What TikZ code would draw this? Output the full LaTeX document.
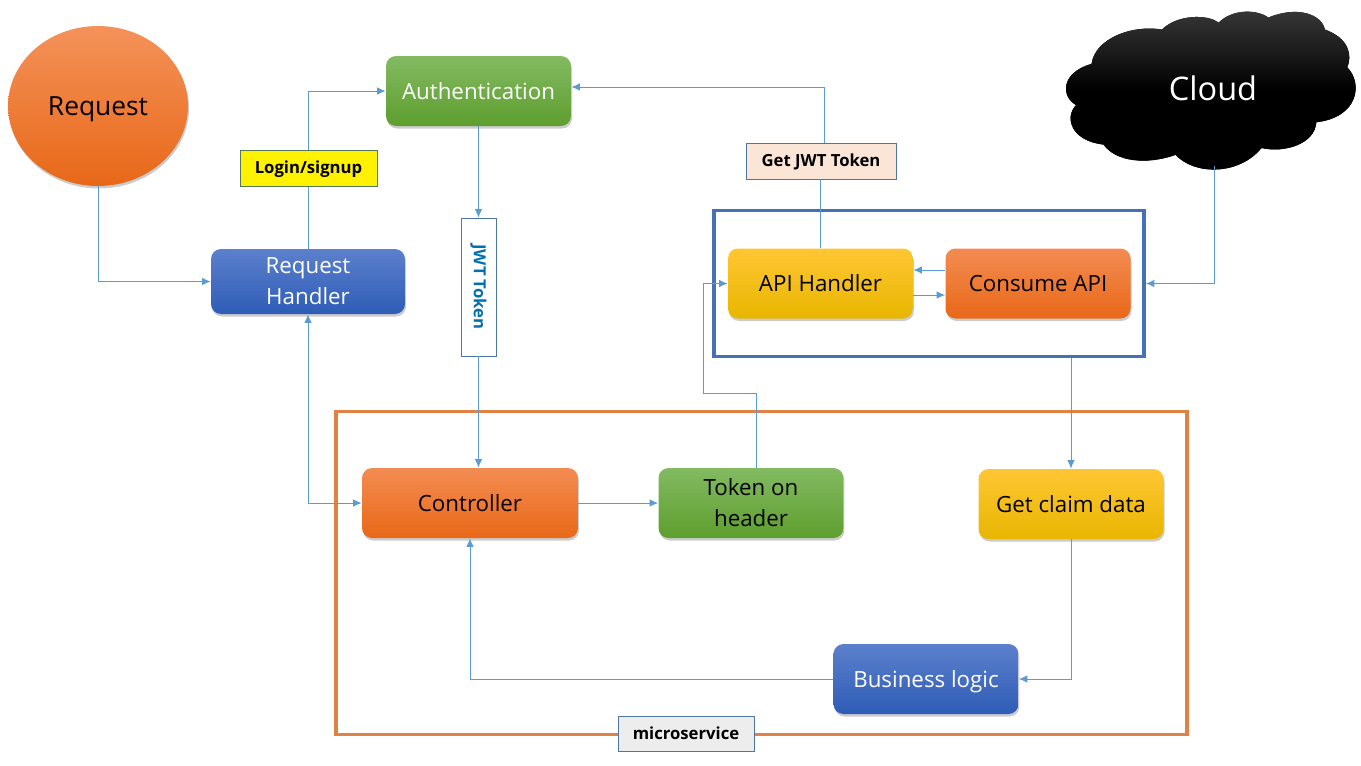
\documentclass[tikz,border=0pt]{standalone}
\usepackage{fontspec}
\setmainfont{Open Sans}
\usetikzlibrary{arrows.meta,shapes.geometric,shadows}
\definecolor{linkblue}{HTML}{5B9BD5}
\definecolor{frameblue}{HTML}{4472B4}
\definecolor{frameorange}{HTML}{DF8244}
\tikzset{
    softshadow/.style={drop shadow={shadow xshift=0.02cm, shadow yshift=-0.05cm, opacity=0.4}},
    boxbase/.style={rounded corners=0.2cm, minimum width=3.7cm, minimum height=1.4cm, inner sep=0pt, align=center, softshadow,
        font=\fontsize{12.7}{17.6}\selectfont},
    oneline/.style={text height=9.1pt, text depth=0pt},
    orangebox/.style={boxbase, top color={rgb,255:red,243;green,140;blue,82}, bottom color={rgb,255:red,232;green,104;blue,24}, text=black},
    greenbox/.style={boxbase, top color={rgb,255:red,131;green,186;blue,98}, bottom color={rgb,255:red,94;green,158;blue,46}},
    yellowbox/.style={boxbase, top color={rgb,255:red,255;green,198;blue,52}, middle color={rgb,255:red,255;green,194;blue,0}, bottom color={rgb,255:red,232;green,182;blue,0}, text=black},
    bluebox/.style={boxbase, top color={rgb,255:red,92;green,128;blue,204}, bottom color={rgb,255:red,46;green,92;blue,182}, text=white},
    tagbox/.style={draw={rgb,255:red,78;green,118;blue,160}, line width=0.4pt, inner sep=0pt, font=\fontsize{9.5}{11}\selectfont\bfseries},
    tagline/.style={text height=6.8pt, text depth=0pt},
    framebox/.style={draw, line width=2.2pt, inner sep=0pt},
    link/.style={draw=linkblue, line width=0.55pt, -{Latex[length=0.17cm,width=0.15cm]}},
    plainlink/.style={draw=linkblue, line width=0.55pt},
}
\begin{document}
\begin{tikzpicture}[x=0.02cm,y=-0.02cm]
    \useasboundingbox (0,0) rectangle (1361,765);
    \node[framebox, draw=frameorange, minimum width=17.02cm, minimum height=6.46cm] (microbox) at (761.5,573) {};
    \node[framebox, draw=frameblue, minimum width=8.6cm, minimum height=2.92cm] (apibox) at (929,283.5) {};

    \node[ellipse, minimum width=3.6cm, minimum height=3.2cm, inner sep=0pt, top color={rgb,255:red,244;green,146;blue,90}, bottom color={rgb,255:red,232;green,104;blue,24},
        softshadow, text height=10.7pt, text depth=0pt, font=\fontsize{15}{18}\selectfont] (request) at (98,106) {Request};
    \node[greenbox, oneline, text=white] (authentication) at (478.5,91) {Authentication};
    \node[bluebox, minimum width=3.88cm, minimum height=1.3cm] (reqhandler) at (308,281.5) {Request\\Handler};
    \node[yellowbox, oneline] (apihandler) at (820.5,283.5) {API Handler};
    \node[orangebox, oneline] (consume) at (1038,283.5) {Consume API};
    \node[orangebox, oneline, minimum width=4.32cm] (controller) at (470,503) {Controller};
    \node[greenbox, text=black] (tokenheader) at (751,503) {Token on\\header};
    \node[yellowbox, oneline] (claimdata) at (1071,504) {Get claim data};
    \node[bluebox, oneline] (business) at (926,679) {Business logic};
    \node[tagbox, fill=white, text={rgb,255:red,0;green,112;blue,176}, minimum width=0.7cm, minimum height=2.76cm] (jwttoken) at (478.5,287) {\rotatebox{-90}{JWT Token}};
    \node[tagbox, tagline, fill={rgb,255:red,251;green,229;blue,214}, minimum width=3cm, minimum height=0.72cm] (getjwt) at (821,161) {Get JWT Token};

    \begin{scope}[shift={(20.874cm,-0.008cm)}, x=0.00687cm, y=-0.00687cm]
        \fill[top color={rgb,255:red,58;green,58;blue,58}, bottom color=black, middle color=black]
            (140,185) .. controls (150,110) and (260,70) .. (345,85)
            .. controls (390,40) and (480,40) .. (510,65)
            .. controls (550,25) and (620,25) .. (655,50)
            .. controls (740,15) and (810,40) .. (820,85)
            .. controls (890,110) and (900,160) .. (885,195)
            .. controls (930,240) and (920,340) .. (795,355)
            .. controls (790,420) and (700,445) .. (635,430)
            .. controls (570,510) and (440,510) .. (385,450)
            .. controls (300,480) and (210,470) .. (175,420)
            .. controls (80,410) and (60,340) .. (95,305)
            .. controls (50,280) and (50,210) .. (140,185) -- cycle;
    \end{scope}
    \node[text=white, inner sep=0pt, text height=13.2pt, text depth=0pt, font=\fontsize{18.5}{22}\selectfont] (cloud) at (1213,89) {Cloud};
    \coordinate (cloudfoot) at (1214,166);

    \draw[link] (request.south) |- (reqhandler.west);
    \draw[link] (reqhandler.north) |- (authentication.west);
    \draw[link] (authentication.south) -- (jwttoken.north);
    \draw[link] (jwttoken.south) -- (jwttoken.south |- controller.north);
    \draw[link, {Latex[length=0.17cm,width=0.15cm]}-{Latex[length=0.17cm,width=0.15cm]}] (reqhandler.south) |- (controller.west);
    \draw[link] (controller.east) -- (tokenheader.west);
    \draw[link] ([xshift=0.1cm]tokenheader.north) |- (703,393) |- (apihandler.west);
    \draw[plainlink] (apihandler.north) -- (getjwt.south -| apihandler.north);
    \draw[link] ([xshift=0.06cm]getjwt.north) |- ([yshift=0.08cm]authentication.east);
    \draw[link] ([yshift=0.27cm]consume.west) -- ([yshift=0.27cm]apihandler.east);
    \draw[link] ([yshift=-0.23cm]apihandler.east) -- ([yshift=-0.23cm]consume.west);
    \draw[link] (cloudfoot) |- (apibox.east);
    \draw[link] (claimdata.north |- apibox.south) -- (claimdata.north);
    \draw[link] (claimdata.south) |- (business.east);
    \draw[link] (business.west) -| (controller.south);

    \node[tagbox, tagline, fill=yellow, draw={rgb,255:red,84;green,120;blue,84}, minimum width=2.74cm, minimum height=0.72cm] (login) at (308.5,168) {Login/signup};
    \node[tagbox, tagline, fill={rgb,255:red,237;green,237;blue,237}, minimum width=2.72cm, minimum height=0.7cm] (microservice) at (686,733.5) {microservice};
\end{tikzpicture}
\end{document}
